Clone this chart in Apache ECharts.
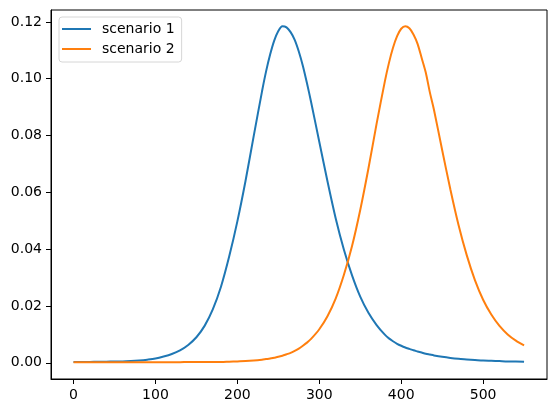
<!DOCTYPE html>
<html>
<head>
<meta charset="utf-8">
<script src="https://cdn.jsdelivr.net/npm/echarts@6/dist/echarts.min.js"></script>
<style>
  html, body { margin: 0; padding: 0; background: #fff; }
  #chart { width: 556px; height: 413px; }
</style>
</head>
<body>
<div id="chart"></div>
<script>
// x positions of the samples (denser around the two peaks)
const xValues = [
    0, 10, 20, 30, 40, 50, 60, 70, 80, 90,
    100, 110, 120, 130, 140, 150, 160, 170, 180, 190,
    200, 210, 220,
    230, 235, 240, 245, 250, 255, 260, 265, 270, 275, 280, 285, 290,
    300, 310, 320, 330, 340, 350, 360, 370,
    380, 385, 390, 395, 400, 405, 410, 415, 420, 425, 430, 435, 440,
    450, 460, 470, 480, 490, 500, 510, 520, 530, 540, 550
];

// values
const scenario1 = [
    0.0003, 0.0003, 0.0003, 0.0004, 0.0004, 0.0005, 0.0005, 0.0006, 0.0008, 0.0011,
    0.0015, 0.0022, 0.0031, 0.0044, 0.0063, 0.0090, 0.0130, 0.0188, 0.0268, 0.0374,
    0.0498, 0.0641, 0.0799,
    0.0954, 0.1025, 0.1085, 0.1134, 0.1168, 0.1185, 0.1181, 0.1164, 0.1137, 0.1096, 0.1045, 0.0984, 0.0918,
    0.0778, 0.0639, 0.0509, 0.0399, 0.0308, 0.0233, 0.0176, 0.0133,
    0.0099, 0.0086, 0.0076, 0.0067, 0.0060, 0.0054, 0.0049, 0.0044, 0.0040, 0.0036, 0.0032, 0.0029, 0.0026,
    0.0021, 0.0017, 0.0014, 0.0012, 0.0010, 0.0008, 0.0007, 0.0006, 0.0005, 0.0005, 0.0004
];

const scenario2 = [
    0.0002, 0.0002, 0.0002, 0.0002, 0.0002, 0.0002, 0.0002, 0.0002, 0.0002, 0.0002,
    0.0002, 0.0002, 0.0002, 0.0002, 0.0003, 0.0003, 0.0003, 0.0003, 0.0003, 0.0004,
    0.0005, 0.0006, 0.0008,
    0.0011, 0.0013, 0.0015, 0.0018, 0.0021, 0.0025, 0.0030, 0.0035, 0.0042, 0.0050, 0.0060, 0.0071, 0.0084,
    0.0118, 0.0164, 0.0226, 0.0309, 0.0411, 0.0538, 0.0684, 0.0842,
    0.0990, 0.1055, 0.1109, 0.1150, 0.1176, 0.1185, 0.1178, 0.1156, 0.1123, 0.1073, 0.1022, 0.0952, 0.0891,
    0.0749, 0.0611, 0.0485, 0.0379, 0.0291, 0.0222, 0.0170, 0.0130, 0.0100, 0.0078, 0.0061
];

const seriesNames = ['scenario 1', 'scenario 2'];
const xTicks = [0, 100, 200, 300, 400, 500];
const yTicks = [0, 0.02, 0.04, 0.06, 0.08, 0.10, 0.12];

const colores = ['#1f77b4', '#ff7f0e'];
const fuente = 'DejaVu Sans';

const toPairs = (ys) => xValues.map((x, i) => [x, ys[i]]);

const getOption = () => {
    return {
        animation: false,
        color: colores,
        textStyle: { fontFamily: fuente },
        grid: {
            left: 51,
            right: 9,
            top: 10,
            bottom: 34,
            show: true,
            borderColor: '#000',
            borderWidth: 1,
            containLabel: false
        },
        legend: {
            orient: 'vertical',
            left: 59,
            top: 17,
            data: seriesNames,
            icon: 'rect',
            itemWidth: 29,
            itemHeight: 2,
            itemGap: 6,
            padding: [5, 7, 6, 3],
            backgroundColor: '#fff',
            borderColor: '#d6d6d6',
            borderWidth: 1,
            borderRadius: 3,
            textStyle: {
                fontFamily: fuente,
                fontSize: 14,
                color: '#000',
                padding: [0, 0, 0, 6]
            }
        },
        xAxis: {
            type: 'value',
            min: -27.5,
            max: 578,
            splitLine: { show: false },
            axisLine: { show: true, onZero: false, lineStyle: { color: '#000', width: 1 } },
            axisTick: {
                show: true,
                length: 5,
                customValues: xTicks,
                lineStyle: { color: '#000', width: 1 }
            },
            axisLabel: {
                customValues: xTicks,
                margin: 9,
                fontSize: 14,
                color: '#000',
                fontFamily: fuente
            }
        },
        yAxis: {
            type: 'value',
            min: -0.0057,
            max: 0.1242,
            splitLine: { show: false },
            axisLine: { show: true, onZero: false, lineStyle: { color: '#000', width: 1 } },
            axisTick: {
                show: true,
                length: 5,
                customValues: yTicks,
                lineStyle: { color: '#000', width: 1 }
            },
            axisLabel: {
                customValues: yTicks,
                margin: 9,
                fontSize: 14,
                color: '#000',
                fontFamily: fuente,
                formatter: (v) => v.toFixed(2)
            }
        },
        series: [
            {
                name: seriesNames[0],
                type: 'line',
                data: toPairs(scenario1),
                smooth: 0.3,
                showSymbol: false,
                symbol: 'none',
                lineStyle: { width: 2, color: colores[0] }
            },
            {
                name: seriesNames[1],
                type: 'line',
                data: toPairs(scenario2),
                smooth: 0.3,
                showSymbol: false,
                symbol: 'none',
                lineStyle: { width: 2, color: colores[1] }
            }
        ]
    };
};

const chart = echarts.init(document.getElementById('chart'), null, { renderer: 'canvas' });
chart.setOption(getOption());
</script>
</body>
</html>
